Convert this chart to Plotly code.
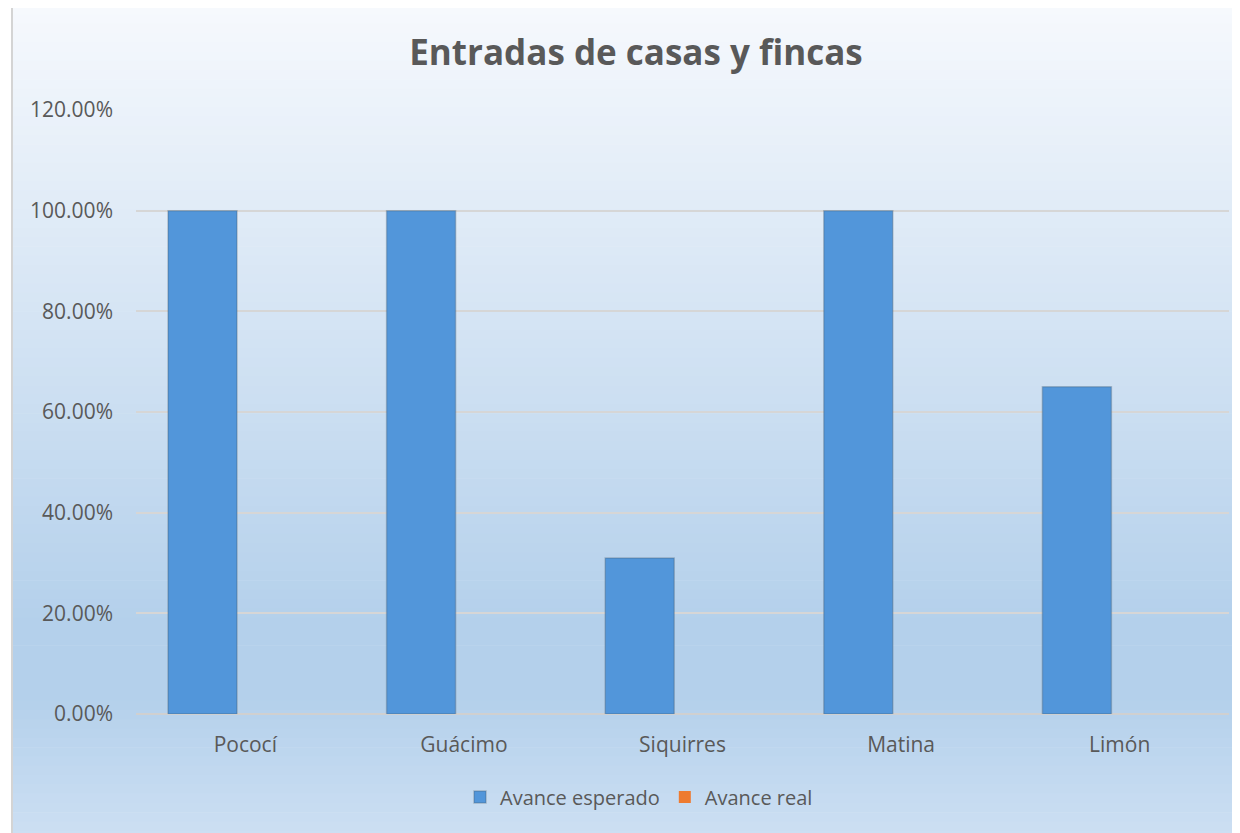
import plotly.graph_objects as go

categories = ["Pococí", "Guácimo", "Siquirres", "Matina", "Limón"]
avance_esperado = [1.00, 1.00, 0.31, 1.00, 0.65]
avance_real = [0.0, 0.0, 0.0, 0.0, 0.0]
y_ticks = [0, 0.2, 0.4, 0.6, 0.8, 1.0, 1.2]
y_tick_labels = ["0.00%", "20.00%", "40.00%", "60.00%", "80.00%", "100.00%", "120.00%"]

# page body has an 8px margin; work in screen pixels and shift
OFF = 8
W, H = 1240 - OFF, 833 - OFF
PL, PR, PT, PB = 136, 1229, 110, 714  # plot area in screen px
L, T = PL - OFF, PT - OFF
R = W - (PR - OFF)
B = H - (PB - OFF)
PW, PH = PR - PL, PB - PT

def px_x(p):
    return (p - PL) / PW

def px_y(p):
    return (PB - p) / PH

def hex2rgb(h):
    h = h.lstrip('#')
    return [int(h[i:i+2], 16) for i in (0, 2, 4)]

stops = [(0.0, "#f6f9fd"), (0.74, "#b4d0eb"), (0.83, "#b4d0eb"), (1.0, "#cde0f3")]

def color_at(t):
    for i in range(len(stops) - 1):
        a, ca = stops[i]
        b, cb = stops[i + 1]
        if a <= t <= b:
            f = (t - a) / (b - a) if b > a else 0
            c1, c2 = hex2rgb(ca), hex2rgb(cb)
            c = [round(c1[k] + (c2[k] - c1[k]) * f) for k in range(3)]
            return "rgb(%d,%d,%d)" % tuple(c)
    return stops[-1][1]

shapes = []
top_px, bot_px = 5, 840
n = 90
step = (bot_px - top_px) / n
for i in range(n):
    y0 = top_px + i * step
    y1 = y0 + step + 0.6
    t = (i + 0.5) / n
    shapes.append(dict(type="rect", xref="paper", yref="paper", layer="below",
                       x0=px_x(12), x1=px_x(1250), y0=px_y(y1), y1=px_y(y0),
                       fillcolor=color_at(t), line=dict(width=0)))
shapes.append(dict(type="rect", xref="paper", yref="paper", layer="below",
                   x0=px_x(12), x1=px_x(1250), y0=px_y(bot_px), y1=px_y(top_px),
                   fillcolor="rgba(0,0,0,0)", line=dict(color="#d4d4d4", width=2)))

cat_w = PW / len(categories)
bar_w = 69 / cat_w
off1 = (168 - (PL + cat_w / 2)) / cat_w
off2 = off1 + bar_w

fig = go.Figure()
fig.add_trace(go.Bar(x=categories, y=avance_esperado, name="Avance esperado",
                     width=bar_w, offset=off1,
                     marker=dict(color="#5296da",
                                 line=dict(width=1.5, color="rgba(70,85,100,0.3)"))))
fig.add_trace(go.Bar(x=categories, y=avance_real, name="Avance real",
                     width=bar_w, offset=off2,
                     marker=dict(color="#ee7b30", line=dict(width=0))))

fig.update_layout(
    width=W, height=H,
    margin=dict(l=L, r=R, t=T, b=B, autoexpand=False),
    paper_bgcolor="white",
    plot_bgcolor="rgba(0,0,0,0)",
    barmode="overlay",
    font=dict(family="Open Sans", color="#595959", size=21),
    title=dict(text="<b>Entradas de casas y fincas</b>", x=px_x(636), xref="paper",
               xanchor="center", y=1 - (53 - OFF) / H, yref="container", yanchor="middle",
               font=dict(family="Open Sans", size=35, color="#595959")),
    shapes=shapes,
    showlegend=True,
    legend=dict(orientation="h", x=px_x(639), xanchor="center", y=px_y(797),
                yanchor="middle", font=dict(size=20, color="#595959"),
                bgcolor="rgba(0,0,0,0)", itemwidth=30, traceorder="normal"),
)
fig.update_yaxes(range=[0, 1.2], tickvals=y_ticks, ticktext=y_tick_labels,
                 showgrid=True, gridcolor="#d6d6d6", gridwidth=1.5,
                 zeroline=True, zerolinecolor="#d0d0d0", zerolinewidth=2,
                 showline=False, ticks="", ticklabelstandoff=22,
                 tickfont=dict(size=21, color="#595959"), fixedrange=True)
fig.update_xaxes(showgrid=False, showline=False, ticks="", ticklabelstandoff=16,
                 tickfont=dict(size=21, color="#595959"), fixedrange=True)

fig.write_html("out.html")
